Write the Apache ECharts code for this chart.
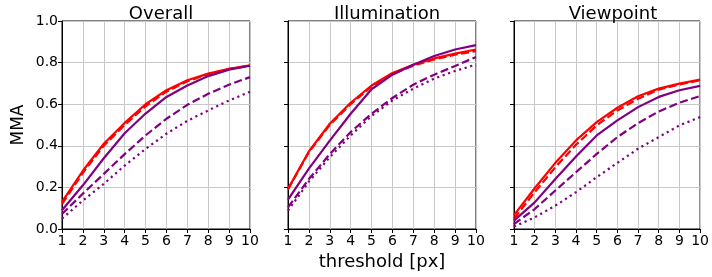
<!DOCTYPE html>
<html>
<head>
<meta charset="utf-8">
<script src="https://cdn.jsdelivr.net/npm/echarts@6/dist/echarts.min.js"></script>
<style>
  html, body { margin: 0; padding: 0; background: #fff; }
  #chart { width: 712px; height: 277px; }
</style>
</head>
<body>
<div id="chart"></div>
<script>
const thresholds = [1, 2, 3, 4, 5, 6, 7, 8, 9, 10];
const panelTitles = ['Overall', 'Illumination', 'Viewpoint'];
const yTicks = [0, 0.2, 0.4, 0.6, 0.8, 1.0];

// one array per method and panel: [overall, illumination, viewpoint]
const redSolid = [
  [0.13, 0.28, 0.41, 0.51, 0.60, 0.667, 0.715, 0.747, 0.77, 0.787],
  [0.193, 0.373, 0.506, 0.607, 0.69, 0.75, 0.79, 0.82, 0.843, 0.863],
  [0.067, 0.196, 0.318, 0.426, 0.514, 0.583, 0.638, 0.675, 0.699, 0.718]
];
const redDashed = [
  [0.12, 0.27, 0.40, 0.50, 0.59, 0.66, 0.71, 0.745, 0.77, 0.785],
  [0.19, 0.37, 0.50, 0.60, 0.685, 0.745, 0.785, 0.815, 0.838, 0.855],
  [0.05, 0.177, 0.297, 0.405, 0.498, 0.57, 0.626, 0.67, 0.695, 0.715]
];
const purpleSolid = [
  [0.09, 0.21, 0.34, 0.46, 0.555, 0.635, 0.69, 0.735, 0.766, 0.785],
  [0.141, 0.29, 0.425, 0.554, 0.672, 0.742, 0.79, 0.832, 0.863, 0.884],
  [0.04, 0.128, 0.24, 0.349, 0.45, 0.522, 0.586, 0.635, 0.667, 0.688]
];
const purpleDashed = [
  [0.072, 0.17, 0.265, 0.36, 0.45, 0.53, 0.597, 0.65, 0.694, 0.73],
  [0.104, 0.24, 0.36, 0.466, 0.554, 0.63, 0.694, 0.742, 0.784, 0.827],
  [0.024, 0.096, 0.185, 0.273, 0.361, 0.442, 0.509, 0.565, 0.607, 0.639]
];
const purpleDotted = [
  [0.05, 0.137, 0.217, 0.305, 0.385, 0.458, 0.52, 0.57, 0.618, 0.66],
  [0.088, 0.228, 0.345, 0.45, 0.543, 0.618, 0.675, 0.723, 0.76, 0.79],
  [0.011, 0.056, 0.112, 0.177, 0.249, 0.318, 0.386, 0.442, 0.498, 0.538]
];

const fontFamily = 'DejaVu Sans';
const lw = 2.2;
const styles = [
  { data: redSolid, color: '#ff0000', type: 'solid' },
  { data: redDashed, color: '#ff0000', type: [8, 3.5] },
  { data: purpleSolid, color: '#800080', type: 'solid' },
  { data: purpleDashed, color: '#800080', type: [8, 3.5] },
  { data: purpleDotted, color: '#800080', type: [2.2, 3.6] }
];

const gridLefts = [62, 288, 514];
const gridWidth = 188;

let chart = echarts.init(document.getElementById('chart'));

let grids = [], xAxes = [], yAxes = [], series = [], titles = [];
gridLefts.forEach((left, i) => {
  grids.push({
    left: left, top: 21, width: gridWidth, height: 208,
    show: true, borderColor: '#000', borderWidth: 1, backgroundColor: 'transparent'
  });
  titles.push({
    text: panelTitles[i],
    left: left + gridWidth / 2, top: 0, textAlign: 'center',
    textStyle: { fontFamily: fontFamily, fontSize: 18, fontWeight: 'normal', color: '#000' }
  });
  xAxes.push({
    gridIndex: i, type: 'value', min: 1, max: 10, interval: 1,
    name: i === 1 ? 'threshold [px]' : '',
    nameLocation: 'middle', nameGap: 21,
    nameTextStyle: { fontFamily: fontFamily, fontSize: 18, color: '#000', verticalAlign: 'top' },
    axisLine: { show: true, onZero: false, lineStyle: { color: '#000', width: 1 } },
    axisTick: { show: true, length: 4, lineStyle: { color: '#000' } },
    axisLabel: { fontFamily: fontFamily, fontSize: 14, color: '#000', margin: 5 },
    splitLine: { show: true, lineStyle: { color: '#c8c8c8', width: 1 } }
  });
  yAxes.push({
    gridIndex: i, type: 'value', min: 0, max: 1, interval: 0.2,
    name: i === 0 ? 'MMA' : '',
    nameLocation: 'middle', nameGap: 35, nameRotate: 90,
    nameTextStyle: { fontFamily: fontFamily, fontSize: 17, color: '#000' },
    axisLine: { show: true, lineStyle: { color: '#000', width: 1 } },
    axisTick: { show: true, length: 4, lineStyle: { color: '#000' } },
    axisLabel: {
      show: i === 0, fontFamily: fontFamily, fontSize: 14, color: '#000', margin: 4,
      formatter: v => v.toFixed(1)
    },
    splitLine: { show: true, lineStyle: { color: '#c8c8c8', width: 1 } }
  });
  styles.forEach(s => {
    series.push({
      type: 'line', xAxisIndex: i, yAxisIndex: i,
      data: thresholds.map((t, k) => [t, s.data[i][k]]),
      showSymbol: false, smooth: false, silent: true,
      lineStyle: { color: s.color, width: lw, type: s.type, cap: 'butt' },
      itemStyle: { color: s.color }
    });
  });
});

chart.setOption({
  animation: false,
  title: titles,
  grid: grids,
  xAxis: xAxes,
  yAxis: yAxes,
  series: series
});
window.addEventListener('resize', function () {
  chart.resize();
});
</script>
</body>
</html>
